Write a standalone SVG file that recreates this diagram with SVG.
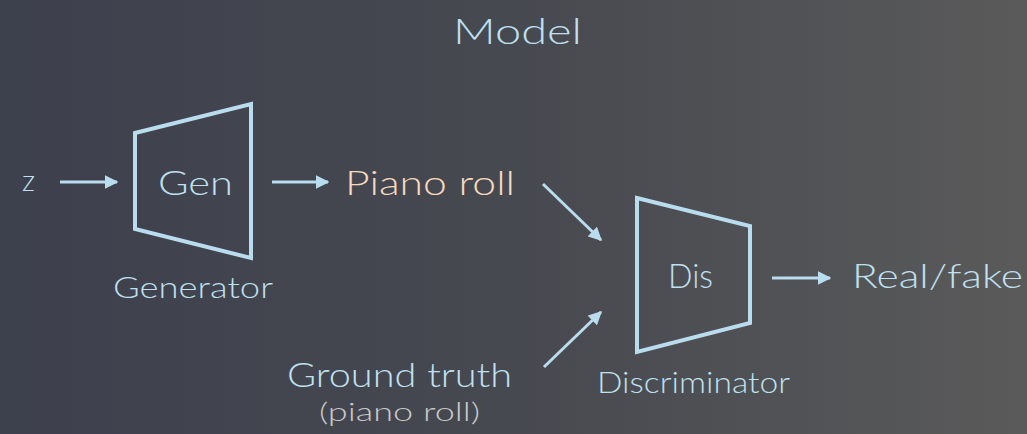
<svg xmlns="http://www.w3.org/2000/svg" width="1027" height="434" viewBox="0 0 1027 434">
  <defs>
    <linearGradient id="bg" x1="0" y1="0" x2="1" y2="0">
      <stop offset="0" stop-color="#3d404d"/>
      <stop offset="0.5" stop-color="#474950"/>
      <stop offset="1" stop-color="#5a5a5a"/>
    </linearGradient>
    <marker id="head" viewBox="0 0 10 10" refX="9" refY="5" markerWidth="4.5" markerHeight="4.5" orient="auto" markerUnits="strokeWidth">
      <path d="M0,0 L10,5 L0,10 z" fill="#b9dcee"/>
    </marker>
  </defs>
  <style>
    .lbl { font-family: Lato, "Liberation Sans", Arial, sans-serif; font-weight: 300; fill: #bfe0f0; }
    .shape { fill: none; stroke: #b9dcee; stroke-width: 4; stroke-linejoin: miter; }
    .edge { stroke: #b9dcee; stroke-width: 3; fill: none; marker-end: url(#head); }
  </style>
  <rect width="1027" height="434" fill="url(#bg)"/>

  <text class="lbl" x="453" y="44" font-size="35" textLength="129" lengthAdjust="spacingAndGlyphs">Model</text>

  <g id="input-z">
    <text class="lbl" x="22" y="191" font-size="30" textLength="13" lengthAdjust="spacingAndGlyphs">z</text>
  </g>

  <g id="generator">
    <polygon class="shape" points="135,133 251,104 251,258 135,229"/>
    <text class="lbl" x="158" y="195" font-size="34" textLength="75" lengthAdjust="spacingAndGlyphs">Gen</text>
    <text class="lbl" x="113" y="298" font-size="29" textLength="160" lengthAdjust="spacingAndGlyphs">Generator</text>
  </g>

  <g id="piano-roll">
    <text class="lbl" x="345" y="195" font-size="34" textLength="170" lengthAdjust="spacingAndGlyphs" style="fill:#f6d9bd">Piano roll</text>
  </g>

  <g id="ground-truth">
    <text class="lbl" x="287" y="387" font-size="34" textLength="225" lengthAdjust="spacingAndGlyphs">Ground truth</text>
    <text class="lbl" x="319" y="421" font-size="26" textLength="161" lengthAdjust="spacingAndGlyphs" style="fill:#c9c9c9">(piano roll)</text>
  </g>

  <g id="discriminator">
    <polygon class="shape" points="637,198 750,226 750,323 637,352"/>
    <text class="lbl" x="668" y="288" font-size="34" textLength="45" lengthAdjust="spacingAndGlyphs">Dis</text>
    <text class="lbl" x="597" y="393" font-size="29" textLength="193" lengthAdjust="spacingAndGlyphs">Discriminator</text>
  </g>

  <g id="real-fake">
    <text class="lbl" x="852" y="288" font-size="34" textLength="171" lengthAdjust="spacingAndGlyphs">Real/fake</text>
  </g>

  <g id="connectors">
    <line class="edge" x1="60" y1="182" x2="117" y2="182"/>
    <line class="edge" x1="272" y1="182" x2="328" y2="182"/>
    <line class="edge" x1="543" y1="184" x2="601" y2="240"/>
    <line class="edge" x1="544" y1="367" x2="601" y2="312"/>
    <line class="edge" x1="772" y1="278" x2="830" y2="278"/>
  </g>
</svg>
